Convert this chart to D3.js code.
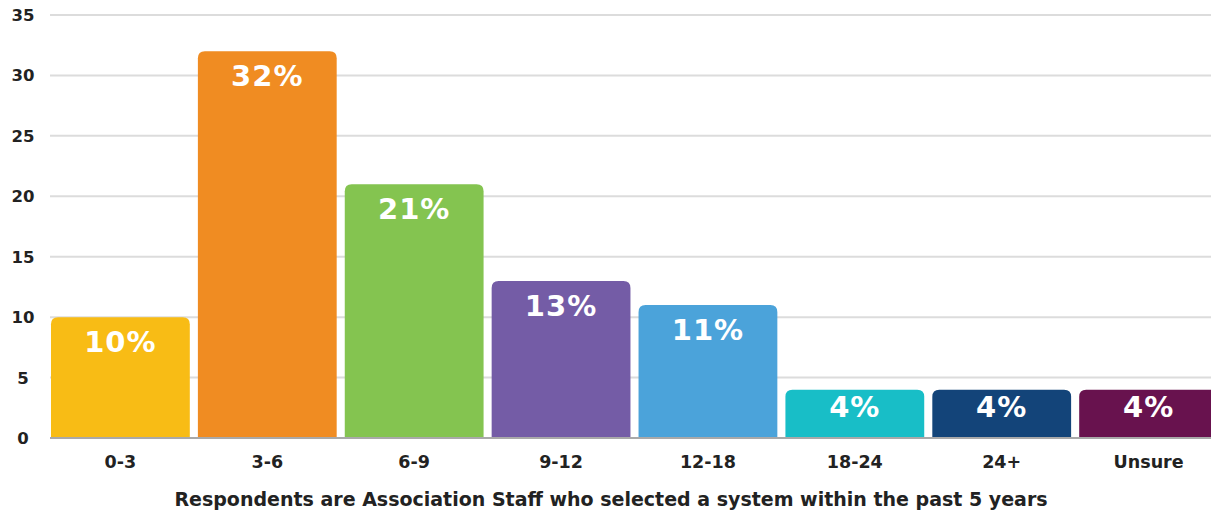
<!DOCTYPE html>
<html>
<head>
<meta charset="utf-8">
<script src="https://cdn.jsdelivr.net/npm/d3@7"></script>
<style>
  body { margin: 0; background: #fff; }
  svg { display: block; }
  .tick-y { font: bold 16.5px "DejaVu Sans", sans-serif; fill: #222; }
  .tick-x { font: bold 17.5px "DejaVu Sans", sans-serif; fill: #222; }
  .bar-label { font: bold 29px "DejaVu Sans", sans-serif; fill: #fff; letter-spacing: 1px; }
  .caption { font: bold 19px "DejaVu Sans", sans-serif; fill: #222; }
</style>
</head>
<body>
<div id="chart"></div>
<script>
// data
var categories = ['0-3', '3-6', '6-9', '9-12', '12-18', '18-24', '24+', 'Unsure'];
var values = [10, 32, 21, 13, 11, 4, 4, 4];
var labels = ['10%', '32%', '21%', '13%', '11%', '4%', '4%', '4%'];
var colors = ['#f8bc15', '#f08c22', '#84c450', '#745ca6', '#4ba3da', '#18bec7', '#134479', '#68124e'];
var yTicks = [0, 5, 10, 15, 20, 25, 30, 35];
var caption = 'Respondents are Association Staff who selected a system within the past 5 years';

var width = 1211, height = 513;

var svg = d3.select('#chart').append('svg')
  .attr('width', width)
  .attr('height', height);

var x = d3.scaleBand()
  .domain(categories)
  .range([51, 1218])
  .paddingInner(0.055)
  .paddingOuter(0);

var y = d3.scaleLinear()
  .domain([0, 35])
  .range([438, 15]);

// gridlines
svg.append('g').selectAll('line.grid')
  .data(yTicks.filter(function(d) { return d > 0; }))
  .enter().append('line')
  .attr('class', 'grid')
  .attr('x1', 50).attr('x2', width)
  .attr('y1', function(d) { return y(d); })
  .attr('y2', function(d) { return y(d); })
  .attr('stroke', '#dcdcdc')
  .attr('stroke-width', 2);

// y tick labels
svg.append('g').selectAll('text')
  .data(yTicks)
  .enter().append('text')
  .attr('class', 'tick-y')
  .attr('x', 23)
  .attr('y', function(d) { return y(d) + 6; })
  .attr('text-anchor', 'middle')
  .text(function(d) { return d; });

// bars with rounded top corners
function barPath(x0, w, top, bottom, r) {
  return 'M' + x0 + ',' + bottom +
    'V' + (top + r) +
    'Q' + x0 + ',' + top + ' ' + (x0 + r) + ',' + top +
    'H' + (x0 + w - r) +
    'Q' + (x0 + w) + ',' + top + ' ' + (x0 + w) + ',' + (top + r) +
    'V' + bottom + 'Z';
}

var bars = svg.append('g').selectAll('g.bar')
  .data(categories)
  .enter().append('g')
  .attr('class', 'bar');

bars.append('path')
  .attr('d', function(d, i) {
    return barPath(x(d), x.bandwidth(), y(values[i]), y(0), 7);
  })
  .attr('fill', function(d, i) { return colors[i]; });

bars.append('text')
  .attr('class', 'bar-label')
  .attr('x', function(d) { return x(d) + x.bandwidth() / 2; })
  .attr('y', function(d, i) {
    var h = y(0) - y(values[i]);
    return y(values[i]) + Math.min(35, h * 0.57);
  })
  .attr('text-anchor', 'middle')
  .text(function(d, i) { return labels[i]; });

// baseline
svg.append('line')
  .attr('x1', 50).attr('x2', width)
  .attr('y1', y(0)).attr('y2', y(0))
  .attr('stroke', '#a9a9a9')
  .attr('stroke-width', 2);

// x labels
svg.append('g').selectAll('text')
  .data(categories)
  .enter().append('text')
  .attr('class', 'tick-x')
  .attr('x', function(d) { return x(d) + x.bandwidth() / 2; })
  .attr('y', 468)
  .attr('text-anchor', 'middle')
  .text(function(d) { return d; });

svg.append('text')
  .attr('class', 'caption')
  .attr('x', 611)
  .attr('y', 506)
  .attr('text-anchor', 'middle')
  .text(caption);
</script>
</body>
</html>
